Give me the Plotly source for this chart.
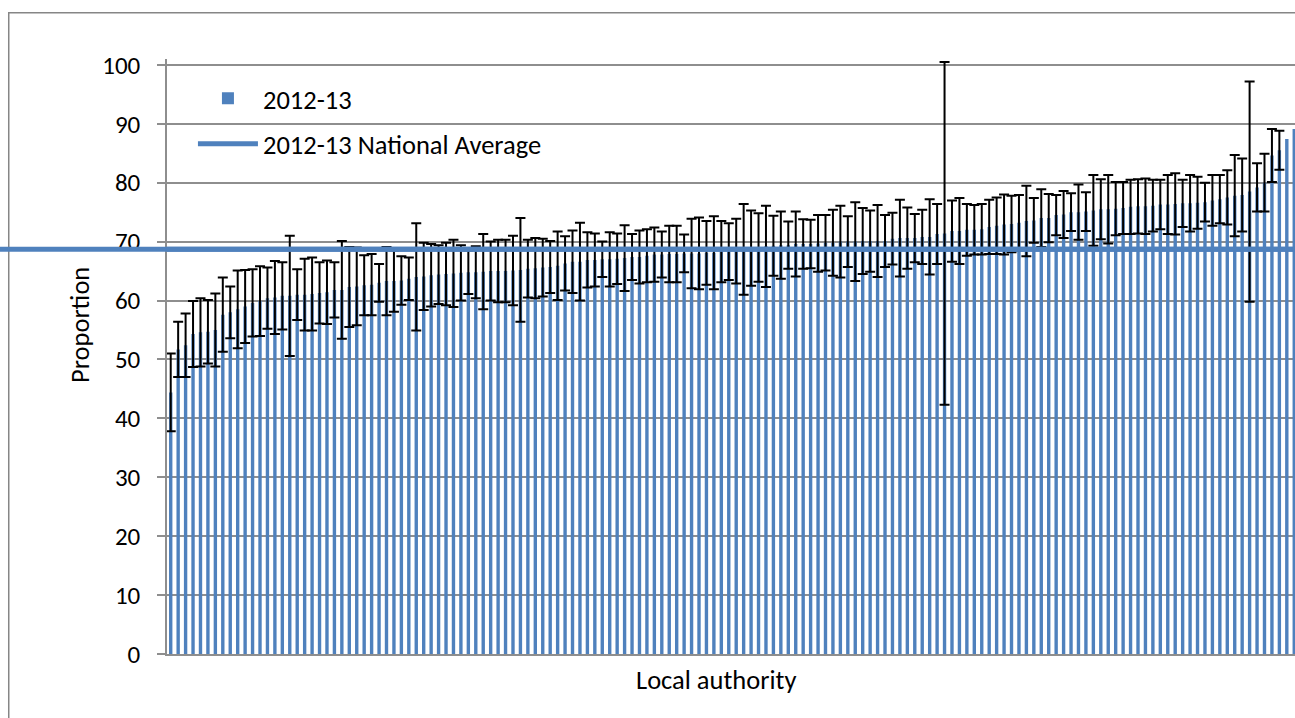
import plotly.graph_objects as go

# ---- data ----
series_name = "2012-13"
average_name = "2012-13 National Average"
national_average = 68.7

values = [
    44.4, 51.7, 52.4, 54.3, 54.6, 54.7, 55.0, 57.6, 58.0, 58.5,
    59.0, 59.6, 59.9, 60.4, 60.5, 60.8, 60.8, 61.0, 61.0, 61.1,
    61.3, 61.4, 61.8, 61.8, 62.3, 62.4, 62.6, 62.7, 63.0, 63.3,
    63.3, 63.4, 63.7, 64.0, 64.1, 64.3, 64.4, 64.5, 64.6, 64.7,
    64.8, 64.8, 64.9, 65.0, 65.0, 65.0, 65.1, 65.2, 65.4, 65.5,
    65.6, 65.7, 65.9, 66.3, 66.6, 66.6, 66.9, 66.9, 67.0, 67.0,
    67.1, 67.2, 67.4, 67.4, 67.6, 67.8, 67.8, 67.9, 67.9, 68.0,
    68.0, 68.0, 68.1, 68.1, 68.3, 68.3, 68.4, 68.7, 68.9, 69.0,
    69.2, 69.3, 69.4, 69.4, 69.6, 69.6, 69.6, 69.7, 69.8, 69.8,
    70.0, 70.0, 70.0, 70.1, 70.1, 70.1, 70.1, 70.5, 70.6, 70.6,
    70.6, 70.8, 70.8, 71.3, 71.4, 71.8, 71.8, 72.0, 72.0, 72.1,
    72.5, 72.7, 72.9, 73.0, 73.2, 73.5, 73.6, 74.0, 74.0, 74.5,
    74.6, 75.0, 75.0, 75.1, 75.3, 75.5, 75.5, 75.6, 75.7, 75.9,
    76.0, 76.0, 76.1, 76.3, 76.3, 76.4, 76.5, 76.5, 76.6, 76.7,
    77.0, 77.2, 77.5, 77.8, 77.9, 78.5, 79.2, 80.0, 84.6, 85.5,
    87.4, 89.1,
]

# half-width of the confidence interval (None = no error bar shown)
errors = [
    6.6, 4.7, 5.4, 5.6, 5.8, 5.4, 6.2, 6.3, 4.4, 6.6,
    6.2, 5.7, 5.9, 5.2, 6.2, 5.7, 10.2, 4.3, 6.1, 6.2,
    5.2, 5.4, 4.7, 8.3, 6.8, 6.6, 5.1, 5.2, 3.2, 5.8,
    5.2, 4.1, 3.6, 9.1, 5.7, 5.3, 5.0, 5.3, 5.7, 4.7,
    3.7, 4.4, 6.4, 5.0, 5.3, 5.3, 5.9, 8.8, 4.9, 5.1,
    4.9, 4.4, 5.8, 4.6, 5.3, 6.6, 4.7, 4.5, 3.0, 4.6,
    4.3, 5.6, 3.9, 4.5, 4.5, 4.6, 3.9, 4.8, 4.8, 3.2,
    5.9, 6.1, 5.4, 6.2, 5.2, 4.8, 5.5, 7.7, 6.4, 5.8,
    6.9, 5.1, 5.7, 4.0, 5.5, 4.2, 4.1, 4.8, 4.7, 5.6,
    6.1, 4.3, 6.7, 5.6, 5.2, 6.1, 4.4, 4.4, 6.5, 5.2,
    4.1, 4.6, 6.4, 5.1, 29.1, 5.2, 5.6, 4.4, 4.2, 4.3,
    4.6, 4.8, 5.1, 4.8, 4.7, 6.0, 3.8, 4.9, 4.1, 3.4,
    4.0, 3.2, 4.7, 3.3, 6.0, 5.1, 5.8, 4.5, 4.4, 4.6,
    4.6, 4.7, 4.4, 4.2, 5.0, 5.2, 4.0, 4.8, 4.4, 3.3,
    4.3, 4.1, 4.6, 6.9, 6.2, 18.7, 4.1, 4.9, 4.5, 3.3,
    None, None,
]

authorities = list(range(1, len(values) + 1))  # unlabelled local authorities
y_ticks = [0, 10, 20, 30, 40, 50, 60, 70, 80, 90, 100]

# ---- styling ----
BLUE = "#4F81BD"
GRID = "#8E8E8E"
FONT = "Calibri, Carlito, Lato, sans-serif"
FS_TICK = 25
FS_TEXT = 26.5

fig = go.Figure()

fig.add_trace(go.Bar(
    x=authorities, y=values, name=series_name,
    marker=dict(color=BLUE, line=dict(width=0)),
    legendgroup="a", hoverinfo="skip",
))

err_x = [a for a, e in zip(authorities, errors) if e is not None]
err_y = [v for v, e in zip(values, errors) if e is not None]
err_v = [e for e in errors if e is not None]
fig.add_trace(go.Scatter(
    x=err_x, y=err_y, mode="markers",
    marker=dict(size=1, opacity=0),
    error_y=dict(type="data", array=err_v, visible=True,
                 color="black", thickness=2, width=5),
    showlegend=False, hoverinfo="skip",
))

fig.add_trace(go.Scatter(
    x=[authorities[0] - 0.5, authorities[-1] + 0.5],
    y=[national_average, national_average],
    mode="lines", name=average_name,
    line=dict(color=BLUE, width=5),
    legendgroup="b", hoverinfo="skip",
))

# national average line extends across the whole chart area
fig.add_shape(type="line", xref="paper", yref="y",
              x0=-0.2, x1=1.05, y0=national_average, y1=national_average,
              line=dict(color=BLUE, width=5), layer="above")

# chart area border
fig.add_shape(type="rect", xref="paper", yref="paper",
              x0=-0.1403, x1=1.1, y0=-0.3, y1=1.0778,
              line=dict(color="#868686", width=1.5), layer="below")

fig.add_annotation(text="Local authority", xref="paper", yref="paper",
                   x=0.4867, y=-0.0437, showarrow=False,
                   xanchor="center", yanchor="middle",
                   font=dict(family=FONT, size=FS_TEXT, color="black"))
fig.add_annotation(text="Proportion", xref="paper", yref="paper",
                   x=-0.0771, y=0.553, showarrow=False, textangle=-90,
                   xanchor="center", yanchor="middle",
                   font=dict(family=FONT, size=FS_TEXT, color="black"))

fig.update_layout(
    width=1295, height=718,
    margin=dict(l=167, r=0, t=59, b=64),
    paper_bgcolor="white", plot_bgcolor="white",
    font=dict(family=FONT, size=FS_TICK, color="black"),
    bargap=0.545,
    showlegend=True,
    legend=dict(x=0.023, y=0.974, xanchor="left", yanchor="top",
                bgcolor="rgba(0,0,0,0)", traceorder="grouped",
                tracegroupgap=8, itemwidth=60,
                font=dict(family=FONT, size=FS_TEXT, color="black")),
    xaxis=dict(range=[0.5, 152.1], showticklabels=False, ticks="",
               showgrid=False, zeroline=False,
               showline=True, linecolor=GRID, linewidth=1.5),
    yaxis=dict(range=[0, 101], tickvals=y_ticks, ticks="outside",
               ticklen=8, tickwidth=1.5, tickcolor=GRID,
               showgrid=True, gridcolor=GRID, gridwidth=1.5,
               zeroline=False, showline=True, linecolor=GRID,
               linewidth=1.5, ticklabelstandoff=12,
               tickfont=dict(family=FONT, size=FS_TICK, color="black")),
)

fig.write_html(
    "out.html",
    config={"displayModeBar": False},
    post_script="document.body.style.margin='0';"
                "document.body.style.overflow='hidden';",
)
